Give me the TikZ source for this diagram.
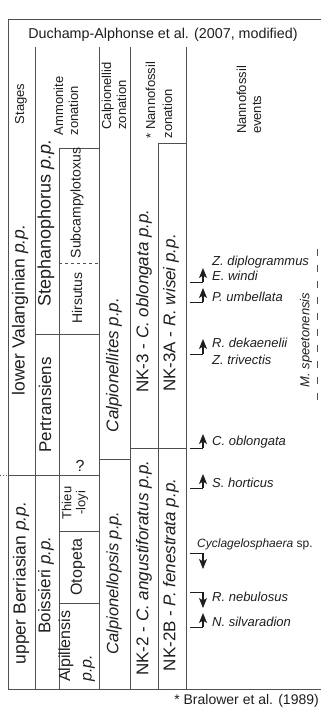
\documentclass[tikz,border=0pt]{standalone}
\usepackage{fontspec}
\setmainfont{Liberation Sans}
\usetikzlibrary{arrows.meta}
\definecolor{lc}{HTML}{505050}
\definecolor{tc}{HTML}{1E1E1E}
\begin{document}
\begin{tikzpicture}[x=1pt,y=-1pt,
  grid/.style={draw=lc, line width=1pt},
  zone/.style={rotate=90, inner sep=0pt, text=tc, align=center},
  ev/.style={anchor=west, inner sep=0pt, text=tc, font=\fontsize{13}{15}\selectfont\itshape},
  evarrow/.style={draw=tc, line width=1.1pt, -{Stealth[length=10pt,width=8pt,inset=2.5pt]}},
  stub/.style={draw=tc, line width=1pt}]
\useasboundingbox (0,0) rectangle (321,710);
% outer frame
\draw[grid] (321,19) -- (8,19) -- (8,689) -- (321,689);
% main verticals
\foreach \x in {35,99,130,186} \draw[grid] (\x,47) -- (\x,689);
\draw[grid] (59,148) -- (59,689);
\draw[grid] (158,143) -- (158,689);
% horizontals
\draw[grid] (8,475) -- (99,475);
\draw[lc, dotted, line width=0.8pt] (0,475) -- (8,475);
\draw[grid] (35,334) -- (99,334);
\draw[grid, dashed, dash pattern=on 3pt off 3pt] (59,263) -- (99,263);
\draw[grid] (59,148) -- (99,148);
\draw[grid] (59,531) -- (99,531);
\draw[grid] (59,603) -- (99,603);
\draw[grid] (99,459) -- (130,459);
\draw[grid] (130,448) -- (186,448);
\draw[grid] (158,143) -- (186,143);
% title
\node[inner sep=0pt, text=tc, font=\fontsize{14.3}{16}\selectfont] (title) at (163,35) {Duchamp-Alphonse et al. (2007, modified)};
% headers
\node[zone, font=\fontsize{13}{15}\selectfont] (hst) at (21,104) {Stages};
\node[zone, font=\fontsize{13}{15}\selectfont, align=left] (ham) at (66,106) {Ammonite\\zonation};
\node[zone, font=\fontsize{13}{15}\selectfont, align=left] (hca) at (114,96) {Calpionellid\\zonation};
\node[zone, font=\fontsize{13}{17}\selectfont, align=left] (hnz) at (159,100) {* Nannofossil\\zonation};
\node[zone, font=\fontsize{13}{15}\selectfont, align=left] (hne) at (249,100) {Nannofossil\\events};
% stages
\node[zone, font=\fontsize{17.5}{20}\selectfont] (lv) at (20,310) {lower Valanginian \textit{p.p.}};
\node[zone, font=\fontsize{17.5}{20}\selectfont] (ub) at (21,583) {upper Berriasian \textit{p.p.}};
% ammonites
\node[zone, font=\fontsize{18}{20}\selectfont] (st) at (46,223) {Stephanophorus \textit{p.p.}};
\node[zone, font=\fontsize{17}{20}\selectfont] (pe) at (45,405) {Pertransiens};
\node[zone, font=\fontsize{17}{20}\selectfont] (bo) at (46,585) {Boissieri \textit{p.p.}};
\node[zone, font=\fontsize{14}{16}\selectfont] (su) at (77,203) {Subcampylotoxus};
\node[zone, font=\fontsize{14}{16}\selectfont] (hi) at (77,298) {Hirsutus};
\node[inner sep=0pt, text=tc, font=\fontsize{16}{18}\selectfont] (qm) at (80,466) {?};
\node[zone, font=\fontsize{13}{14}\selectfont] (th) at (75,503) {Thieu\\-loyi};
\node[zone, font=\fontsize{16}{18}\selectfont] (ot) at (78,567) {Otopeta};
\node[zone, font=\fontsize{16}{18}\selectfont, anchor=west] (al) at (66,682) {Alpillensis};
\node[zone, font=\fontsize{16}{18}\selectfont\itshape, anchor=west] (alp) at (89,682) {p.p.};
% calpionellids
\node[zone, font=\fontsize{17}{20}\selectfont\itshape] (cs) at (114,365) {Calpionellites p.p.};
\node[zone, font=\fontsize{16.5}{20}\selectfont\itshape] (cp) at (114,583) {Calpionellopsis p.p.};
% nannofossil zones
\node[zone, font=\fontsize{17}{20}\selectfont] (nk3) at (144,301) {NK-3 - \textit{C. oblongata p.p.}};
\node[zone, font=\fontsize{17}{20}\selectfont] (nk3a) at (171,313) {NK-3A - \textit{R. wisei p.p.}};
\node[zone, font=\fontsize{17}{20}\selectfont] (nk2) at (144,568) {NK-2 - \textit{C. angustiforatus p.p.}};
\node[zone, font=\fontsize{17}{20}\selectfont] (nk2b) at (171,575) {NK-2B - \textit{P. fenestrata p.p.}};
% events
\node[ev] (e1) at (212,262) {Z. diplogrammus};
\node[ev] (e2) at (212,276) {E. windi};
\node[ev] (e3) at (212,297) {P. umbellata};
\node[ev] (e4) at (212,343) {R. dekaenelii};
\node[ev] (e5) at (212,360) {Z. trivectis};
\node[ev] (e6) at (212,442) {C. oblongata};
\node[ev] (e7) at (212,483) {S. horticus};
\node[ev, font=\fontsize{12}{14}\selectfont\itshape] (e8) at (197,544) {Cyclagelosphaera \upshape sp.};
\node[ev] (e9) at (212,597) {R. nebulosus};
\node[ev] (e10) at (212,622) {N. silvaradion};
\node[zone, font=\fontsize{13}{15}\selectfont\itshape] (ms) at (306,340) {M. speetonensis};
\draw[grid, dash pattern=on 7pt off 9pt] (317,249) -- (317,403);
% event arrows
\foreach \n/\y/\t in {a2/282/268, a3/302/288, a4/354/339, a6/448/434, a7/488/474, a10/627/613}{
  \coordinate (\n s) at (190,\y);
  \coordinate (\n c) at (203,\y);
  \coordinate (\n t) at (203,\t);
  \draw[stub] (\n s) -- (\n c);
  \draw[evarrow] (\n c) -- (\n t);
}
\foreach \n/\y/\t in {a8/553/569, a9/592/608}{
  \coordinate (\n s) at (190,\y);
  \coordinate (\n c) at (203,\y);
  \coordinate (\n t) at (203,\t);
  \draw[stub] (\n s) -- (\n c);
  \draw[evarrow] (\n c) -- (\n t);
}
% footnote
\node[inner sep=0pt, anchor=east, text=tc, font=\fontsize{14}{16}\selectfont] (fn) at (319,701) {* Bralower et al. (1989)};
\end{tikzpicture}
\end{document}
